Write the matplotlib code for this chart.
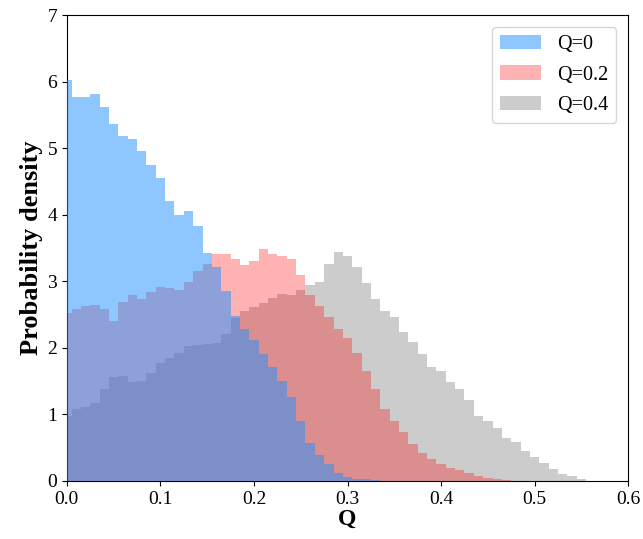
import numpy as np
import matplotlib
matplotlib.use("Agg")
import matplotlib.pyplot as plt

plt.rcParams['font.family'] = 'serif'
plt.rcParams['font.serif'] = ['Liberation Serif', 'DejaVu Serif']
plt.rcParams['mathtext.fontset'] = 'stix'

# гистограммы плотности, шаг 0.01, центры бинов в 0, 0.01, 0.02, ...
bin_width = 0.01
labels = ['Q=0', 'Q=0.2', 'Q=0.4']

dens_q0 = [6.025, 5.765, 5.765, 5.82, 5.62, 5.37, 5.185, 5.135, 4.95, 4.75,
           4.55, 4.2, 3.99, 4.06, 3.825, 3.425, 3.21, 2.85, 2.47, 2.275,
           2.115, 1.905, 1.705, 1.505, 1.265, 0.9, 0.565, 0.39, 0.255, 0.115,
           0.055, 0.025, 0.02, 0.015]

dens_q02 = [2.525, 2.575, 2.625, 2.64, 2.575, 2.40, 2.69, 2.80, 2.735, 2.84,
            2.915, 2.895, 2.865, 2.985, 3.15, 3.265, 3.405, 3.415, 3.34, 3.24,
            3.305, 3.49, 3.415, 3.38, 3.34, 3.09, 2.79, 2.63, 2.465, 2.275,
            2.14, 1.915, 1.65, 1.375, 1.08, 0.9, 0.74, 0.555, 0.415, 0.325,
            0.25, 0.19, 0.155, 0.115, 0.065, 0.035, 0.02, 0.015]

dens_q04 = [0.975, 1.075, 1.11, 1.165, 1.385, 1.565, 1.575, 1.485, 1.5, 1.625,
            1.765, 1.85, 1.915, 2.02, 2.035, 2.05, 2.065, 2.2, 2.44, 2.55,
            2.615, 2.675, 2.755, 2.815, 2.79, 2.865, 2.94, 2.99, 3.265, 3.44,
            3.38, 3.215, 2.975, 2.725, 2.555, 2.465, 2.23, 2.08, 1.9, 1.705,
            1.65, 1.48, 1.38, 1.215, 0.98, 0.9, 0.79, 0.65, 0.58, 0.455,
            0.355, 0.265, 0.175, 0.105, 0.065, 0.02]


def edges_for(vals):
    return -bin_width / 2 + bin_width * np.arange(len(vals) + 1)


fig = plt.figure(figsize=(6.43, 5.39), dpi=100)
ax = fig.add_axes([0.104, 0.108, 0.873, 0.864])

# порядок отрисовки: серый снизу, синий сверху
h0 = ax.stairs(dens_q0, edges_for(dens_q0), fill=True, color='dodgerblue',
               alpha=0.5, label=labels[0], zorder=3, linewidth=0)
h1 = ax.stairs(dens_q02, edges_for(dens_q02), fill=True, color='red',
               alpha=0.3, label=labels[1], zorder=2, linewidth=0)
h2 = ax.stairs(dens_q04, edges_for(dens_q04), fill=True, color='gray',
               alpha=0.4, label=labels[2], zorder=1, linewidth=0)

ax.set_xlim(0, 0.6)
ax.set_ylim(0, 7)
ax.set_xticks(np.arange(0, 0.61, 0.1))
ax.set_xticklabels(['0.0', '0.1', '0.2', '0.3', '0.4', '0.5', '0.6'])
ax.set_yticks(range(8))
ax.tick_params(labelsize=14)
ax.set_xlabel('Q', fontsize=17, fontweight='bold', labelpad=1)
ax.set_ylabel('Probability density', fontsize=19, fontweight='bold', labelpad=3)
ax.legend(handles=[h0, h1, h2], loc='upper right', fontsize=14.5,
          labelspacing=0.55, borderaxespad=0.6)

plt.savefig('out.png', dpi=100)
